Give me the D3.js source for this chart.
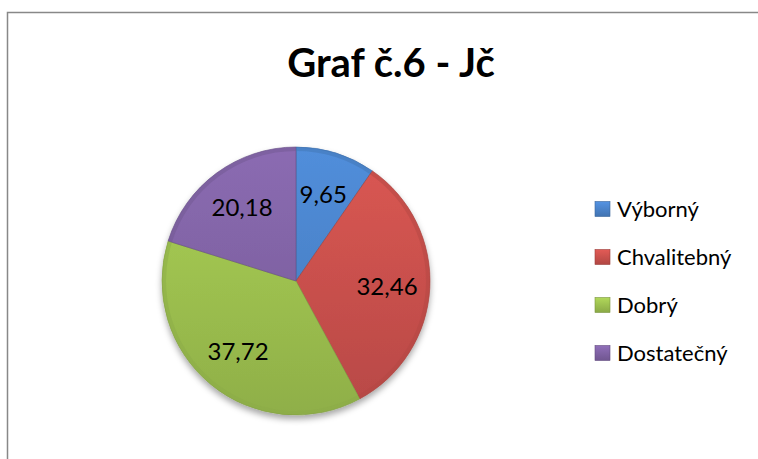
<!DOCTYPE html>
<html>
<head>
<meta charset="utf-8">
<script src="https://cdn.jsdelivr.net/npm/d3@7"></script>
<style>
  body { margin: 0; background: #fff; }
  text { font-family: Lato, "Open Sans", sans-serif; fill: #000; }
</style>
</head>
<body>
<div id="chart"></div>
<script>
// data
const categories = ["Výborný", "Chvalitebný", "Dobrý", "Dostatečný"];
const values = [9.65, 32.46, 37.72, 20.18];
const labels = ["9,65", "32,46", "37,72", "20,18"];
const colors = ["#4a82c8", "#c8504c", "#9cbf4f", "#7f62a3"];

const width = 758, height = 459;
const cx = 296, cy = 281, radius = 134;

const svg = d3.select("#chart")
    .append("svg")
    .attr("width", width)
    .attr("height", height);

// chart area border (cropped on the right and bottom)
svg.append("path")
    .attr("d", `M7.5,${height + 2}V12.5H${width + 2}`)
    .attr("fill", "none")
    .attr("stroke", "#888")
    .attr("stroke-width", 1.5);

svg.append("text")
    .attr("x", 391)
    .attr("y", 77)
    .attr("text-anchor", "middle")
    .style("font-weight", "bold")
    .style("font-size", "40px")
    .text("Graf č.6 - Jč");

const defs = svg.append("defs");

const shadow = defs.append("filter")
    .attr("id", "shadow")
    .attr("x", "-20%").attr("y", "-20%")
    .attr("width", "140%").attr("height", "140%");
shadow.append("feDropShadow")
    .attr("dx", 0).attr("dy", 4)
    .attr("stdDeviation", 3)
    .attr("flood-color", "#000")
    .attr("flood-opacity", 0.35);

colors.forEach((c, i) => {
    const g = defs.append("linearGradient")
        .attr("id", "grad" + i)
        .attr("x1", 0).attr("y1", 0)
        .attr("x2", 0).attr("y2", 1);
    g.append("stop").attr("offset", "0%").attr("stop-color", d3.color(c).brighter(0.35));
    g.append("stop").attr("offset", "100%").attr("stop-color", d3.color(c).darker(0.35));

    const pg = defs.append("linearGradient")
        .attr("id", "pgrad" + i)
        .attr("gradientUnits", "userSpaceOnUse")
        .attr("x1", 0).attr("y1", -radius)
        .attr("x2", 0).attr("y2", radius);
    pg.append("stop").attr("offset", "0%").attr("stop-color", d3.color(c).brighter(0.25));
    pg.append("stop").attr("offset", "100%").attr("stop-color", d3.color(c).darker(0.25));
});

const pie = d3.pie().sort(null).value(d => d);
const arcs = pie(values);

const arc = d3.arc().innerRadius(0).outerRadius(radius);
const bevel = d3.arc().innerRadius(radius - 4).outerRadius(radius);
const labelArc = d3.arc().innerRadius(radius * 0.68).outerRadius(radius * 0.68);

const g = svg.append("g")
    .attr("transform", `translate(${cx}, ${cy})`);

g.append("g")
    .attr("filter", "url(#shadow)")
    .selectAll("path")
    .data(arcs)
    .enter()
    .append("path")
    .attr("d", arc)
    .attr("fill", (d, i) => `url(#pgrad${i})`)
    .attr("stroke", (d, i) => d3.color(colors[i]).darker(0.6))
    .attr("stroke-width", 0.6);

// soft rim for the bevel look
g.selectAll(".rim")
    .data(arcs)
    .enter()
    .append("path")
    .attr("class", "rim")
    .attr("d", bevel)
    .attr("fill", (d, i) => d3.color(colors[i]).darker(0.3))
    .attr("opacity", 0.5);

g.selectAll(".label")
    .data(arcs)
    .enter()
    .append("text")
    .attr("class", "label")
    .attr("transform", d => `translate(${labelArc.centroid(d)})`)
    .attr("text-anchor", "middle")
    .attr("dy", "0.36em")
    .style("font-size", "24px")
    .text((d, i) => labels[i]);

// legend
const ly = d3.scalePoint()
    .domain(categories)
    .range([209, 353]);

const legend = svg.selectAll(".legend")
    .data(categories)
    .enter()
    .append("g")
    .attr("class", "legend")
    .attr("transform", d => `translate(595, ${ly(d)})`);

legend.append("rect")
    .attr("x", 0)
    .attr("y", -7.5)
    .attr("width", 15)
    .attr("height", 15)
    .attr("fill", (d, i) => `url(#grad${i})`)
    .attr("stroke", (d, i) => d3.color(colors[i]).darker(0.7))
    .attr("stroke-width", 0.6);

legend.append("text")
    .attr("x", 22)
    .attr("y", 0)
    .attr("dy", "0.36em")
    .style("font-size", "22px")
    .text(d => d);
</script>
</body>
</html>
